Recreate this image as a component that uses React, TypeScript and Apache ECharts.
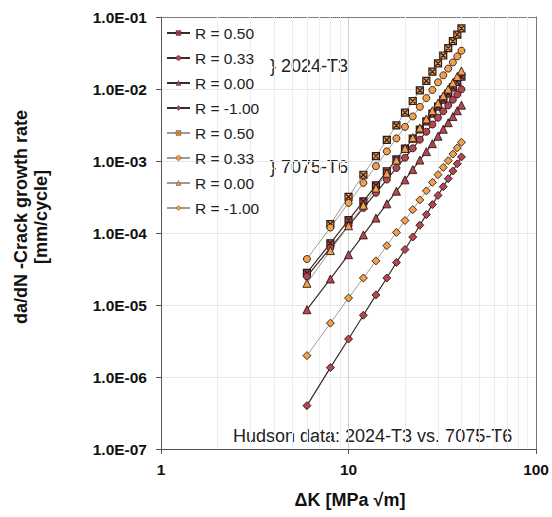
import React, { useEffect, useRef } from "react";
import * as echarts from "echarts";

const deltaK = [6, 8, 10, 12, 14, 16, 18, 20, 22, 24, 26, 28, 30, 32, 34, 36, 38, 40];

const t3_R050 = [2.8e-5, 7.2e-5, 1.51e-4, 2.75e-4, 4.6e-4, 7.2e-4, 1.05e-3, 1.49e-3, 2.05e-3, 2.74e-3, 3.56e-3, 4.55e-3, 5.7e-3, 7.1e-3, 8.65e-3, 1.05e-2, 1.25e-2, 1.48e-2];
const t3_R033 = [2.5e-5, 6.2e-5, 1.26e-4, 2.23e-4, 3.62e-4, 5.52e-4, 8.0e-4, 1.11e-3, 1.5e-3, 1.98e-3, 2.55e-3, 3.21e-3, 4.0e-3, 4.9e-3, 5.93e-3, 7.1e-3, 8.4e-3, 9.9e-3];
const t3_R000 = [8.6e-6, 2.3e-5, 5.0e-5, 9.4e-5, 1.61e-4, 2.54e-4, 3.81e-4, 5.47e-4, 7.6e-4, 1.03e-3, 1.35e-3, 1.74e-3, 2.21e-3, 2.76e-3, 3.4e-3, 4.14e-3, 4.99e-3, 5.96e-3];
const t3_Rm100 = [4.0e-7, 1.35e-6, 3.37e-6, 7.2e-6, 1.38e-5, 2.37e-5, 3.9e-5, 5.9e-5, 8.8e-5, 1.28e-4, 1.8e-4, 2.48e-4, 3.33e-4, 4.39e-4, 5.69e-4, 7.26e-4, 9.14e-4, 1.14e-3];
const t6_R050 = [null, 1.33e-4, 3.18e-4, 6.44e-4, 1.17e-3, 1.97e-3, 3.12e-3, 4.7e-3, 6.81e-3, 9.55e-3, 1.3e-2, 1.74e-2, 2.27e-2, 2.92e-2, 3.7e-2, 4.61e-2, 5.69e-2, 6.95e-2];
const t6_R033 = [4.35e-5, 1.19e-4, 2.62e-4, 4.97e-4, 8.5e-4, 1.36e-3, 2.06e-3, 2.98e-3, 4.16e-3, 5.65e-3, 7.48e-3, 9.7e-3, 1.24e-2, 1.55e-2, 1.92e-2, 2.34e-2, 2.84e-2, 3.4e-2];
const t6_R000 = [2.0e-5, 5.7e-5, 1.26e-4, 2.43e-4, 4.2e-4, 6.76e-4, 1.03e-3, 1.5e-3, 2.11e-3, 2.88e-3, 3.83e-3, 4.99e-3, 6.38e-3, 8.04e-3, 9.98e-3, 1.22e-2, 1.49e-2, 1.78e-2];
const t6_Rm100 = [1.98e-6, 5.6e-6, 1.25e-5, 2.37e-5, 4.1e-5, 6.67e-5, 1.02e-4, 1.49e-4, 2.11e-4, 2.88e-4, 3.85e-4, 5.04e-4, 6.46e-4, 8.15e-4, 1.01e-3, 1.25e-3, 1.52e-3, 1.82e-3];

const minorGridX = [2, 3, 4, 5, 6, 7, 8, 9, 20, 30, 40, 50, 60, 70, 80, 90];

const FONT = "'Liberation Sans', Arial, sans-serif";
const RED = "#b4464f";
const ORANGE = "#f3a04b";
const CROSS = "path://M0,0 L10,0 L10,10 L0,10 Z M1.5,1.5 L8.5,8.5 M8.5,1.5 L1.5,8.5";

function pairs(vals: (number | null)[]) {
  const out: number[][] = [];
  vals.forEach((v, i) => {
    if (v != null) out.push([deltaK[i], v]);
  });
  return out;
}

function mk(name: string, vals: (number | null)[], symbol: string, size: number, fill: string, line: string, lw: number, bw = 0.9) {
  return {
    name,
    type: "line",
    data: pairs(vals),
    symbol,
    symbolSize: size,
    showSymbol: true,
    itemStyle: { color: fill, borderColor: "#2a1a1a", borderWidth: bw },
    lineStyle: { color: line, width: lw },
    z: 3,
  };
}

export default function App() {
  const ref = useRef<HTMLDivElement>(null);
  useEffect(() => {
    if (!ref.current) return;
    const chart = echarts.init(ref.current, null, { renderer: "svg" });
    const fmtY = (v: number) => {
      const e = Math.round(Math.log10(v));
      return "1.0E" + (e < 0 ? "-" : "+") + String(Math.abs(e)).padStart(2, "0");
    };
    const series: any[] = [
      {
        name: "grid",
        type: "line",
        data: [],
        z: 0,
        silent: true,
        markLine: {
          silent: true,
          symbol: "none",
          z: 1,
          label: { show: false },
          lineStyle: { color: "#ececec", width: 1, type: "solid" },
          data: minorGridX.map((x) => ({ xAxis: x })),
        },
      },
      mk("t3a", t3_R050, CROSS, 7, RED, "#3a2a2a", 1.2, 1.2),
      mk("t3b", t3_R033, "circle", 7, RED, "#3a2a2a", 1.2),
      mk("t3c", t3_R000, "triangle", 8, RED, "#3a2a2a", 1.2),
      mk("t3d", t3_Rm100, "diamond", 8, RED, "#3a2a2a", 1.2),
      mk("t6a", t6_R050, CROSS, 7, ORANGE, "#a09a98", 1, 1.2),
      mk("t6b", t6_R033, "circle", 7, ORANGE, "#a09a98", 1),
      mk("t6c", t6_R000, "triangle", 8, ORANGE, "#a09a98", 1),
      mk("t6d", t6_Rm100, "diamond", 8, ORANGE, "#a09a98", 1),
    ];
    const labels: Record<string, string> = {
      t3a: "R = 0.50", t3b: "R = 0.33", t3c: "R = 0.00", t3d: "R = -1.00",
      t6a: "R = 0.50", t6b: "R = 0.33", t6c: "R = 0.00", t6d: "R = -1.00",
    };
    chart.setOption({
      animation: false,
      grid: { left: 161, top: 17, right: 11, bottom: 68 },
      legend: {
        data: ["t3a", "t3b", "t3c", "t3d", "t6a", "t6b", "t6c", "t6d"],
        orient: "vertical",
        left: 166,
        top: 20.5,
        padding: 0,
        itemWidth: 23,
        itemHeight: 6,
        itemGap: 0,
        itemStyle: { borderWidth: 0.4 },
        formatter: (n: string) => labels[n],
        textStyle: { fontFamily: FONT, fontSize: 15.5, lineHeight: 25, color: "#222" },
      },
      xAxis: [
        {
          type: "log",
          logBase: 10,
          min: 1,
          max: 100,
          interval: 1,
          axisLine: { show: true, lineStyle: { color: "#555", width: 1 } },
          axisTick: { show: true, inside: false, length: 5, lineStyle: { color: "#555" } },
          axisLabel: { fontFamily: FONT, fontSize: 15.5, fontWeight: "bold", color: "#111", margin: 12, formatter: (v: number) => String(Math.round(v)) },
          splitLine: { show: true, lineStyle: { color: "#cfcfcf", width: 1 } },
        },
        {
          type: "log",
          logBase: 10,
          min: 1,
          max: 100,
          position: "top",
          axisLine: { show: true, lineStyle: { color: "#666", width: 1, type: "dotted" } },
          axisTick: { show: false },
          axisLabel: { show: false },
          splitLine: { show: false },
        },
      ],
      yAxis: [
        {
          type: "log",
          logBase: 10,
          min: 1e-7,
          max: 0.1,
          interval: 1,
          axisLine: { show: true, lineStyle: { color: "#555", width: 1 } },
          axisTick: { show: true, inside: false, length: 5, lineStyle: { color: "#555" } },
          axisLabel: { fontFamily: FONT, fontSize: 15.5, fontWeight: "bold", color: "#111", margin: 14, formatter: fmtY },
          splitLine: { show: true, lineStyle: { color: "#e6e6e6", width: 1 } },
        },
        {
          type: "log",
          logBase: 10,
          min: 1e-7,
          max: 0.1,
          position: "right",
          axisLine: { show: true, lineStyle: { color: "#777", width: 1 } },
          axisTick: { show: false },
          axisLabel: { show: false },
          splitLine: { show: false },
        },
      ],
      series,
      graphic: [
        { type: "text", left: 270, top: 57, style: { text: "} 2024-T3", font: `18px ${FONT}`, fill: "#222" } },
        { type: "text", left: 270, top: 158, style: { text: "} 7075-T6", font: `18px ${FONT}`, fill: "#222" } },
        { type: "text", left: 233, top: 427, style: { text: "Hudson data: 2024-T3 vs. 7075-T6", font: `18px ${FONT}`, fill: "#222" } },
        { type: "text", x: 350, y: 500, style: { text: "ΔK [MPa √m]", font: `bold 18px ${FONT}`, fill: "#111", align: "center", verticalAlign: "middle" } },
        {
          type: "text",
          x: 31,
          y: 217,
          rotation: Math.PI / 2,
          style: { text: "da/dN -Crack growth rate\n[mm/cycle]", font: `bold 18px ${FONT}`, lineHeight: 20, fill: "#111", align: "center", verticalAlign: "middle" },
        },
      ],
    });
    return () => chart.dispose();
  }, []);
  return <div ref={ref} style={{ position: "absolute", left: 0, top: 0, width: 552, height: 517 }} />;
}
